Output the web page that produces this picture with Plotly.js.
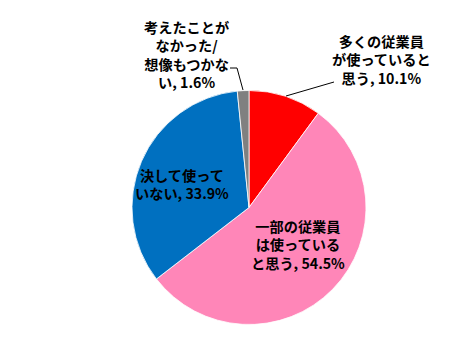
<!DOCTYPE html>
<html><head><meta charset="utf-8">
<script src="https://cdn.plot.ly/plotly-3.0.1.min.js"></script>
<style>html,body{margin:0;padding:0;background:#fff}</style>
</head><body>
<div id="chart" style="width:462px;height:340px"></div>
<script>
var categories = ["多くの従業員が使っていると思う", "一部の従業員は使っていると思う", "決して使っていない", "考えたことがなかった/想像もつかない"];
var labelLines = ["多くの従業員<br>が使っていると<br>思う", "一部の従業員<br>は使っている<br>と思う", "決して使って<br>いない", "考えたことが<br>なかった/<br>想像もつかな<br>い"];
var values = [10.1, 54.5, 33.9, 1.6];
var colors = ["#FF0000", "#FF86B8", "#0070C0", "#808080"];

// label positions (paper coords, layout only)
var labelPos = [[381, 59], [298, 244], [182, 184], [186, 54]];

var W = 462, H = 340;
function px(x){return x / W;}
function py(y){return 1 - y / H;}

var annotations = categories.map(function(c, i){
  return {
    xref: 'paper', yref: 'paper',
    x: px(labelPos[i][0]), y: py(labelPos[i][1]),
    xanchor: 'center', yanchor: 'middle',
    text: labelLines[i] + ', ' + values[i].toFixed(1) + '%',
    showarrow: false, align: 'center',
    font: {family: '"Noto Sans CJK JP", sans-serif', size: 14.2, color: '#000', weight: 'bold'}
  };
});

var shapes = [
  {type:'path', xref:'paper', yref:'paper',
   path: 'M ' + px(286) + ' ' + py(96) + ' L ' + px(334) + ' ' + py(82),
   line:{color:'#000', width:1}},
  {type:'path', xref:'paper', yref:'paper',
   path: 'M ' + px(243) + ' ' + py(90) + ' L ' + px(237) + ' ' + py(68) + ' L ' + px(230) + ' ' + py(68),
   line:{color:'#000', width:1}}
];

var trace = {
  type: 'pie',
  labels: categories,
  values: values,
  sort: false,
  direction: 'clockwise',
  rotation: 0,
  textinfo: 'none',
  hoverinfo: 'none',
  marker: {colors: colors, line: {color: '#ffffff', width: 0.8}},
  domain: {x: [px(132), px(366)], y: [py(325), py(90)]}
};

Plotly.newPlot('chart', [trace], {
  width: W, height: H,
  margin: {l:0, r:0, t:0, b:0},
  showlegend: false,
  paper_bgcolor: '#fff',
  annotations: annotations,
  shapes: shapes
}, {staticPlot: true});
</script>
</body></html>
